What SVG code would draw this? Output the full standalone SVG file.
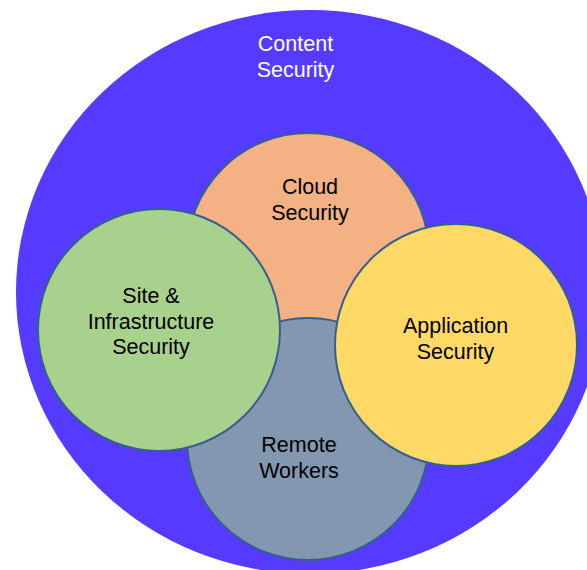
<svg xmlns="http://www.w3.org/2000/svg" width="587" height="570" viewBox="0 0 587 570">
  <style>
    .ring { stroke: #365F91; stroke-width: 2; }
    .lbl { font-family: "Liberation Sans", Arial, sans-serif; font-size: 21.5px; text-anchor: middle; fill: #000000; }
    .white { fill: #FFFFFF; }
  </style>
  <rect x="0" y="0" width="587" height="570" fill="#FFFFFF"/>
  <g id="content-security">
    <ellipse cx="310" cy="292" rx="294" ry="282" fill="#553BFF"/>
    <text class="lbl white" x="295.5" y="51">Content</text>
    <text class="lbl white" x="295.5" y="76.5">Security</text>
  </g>
  <g id="cloud-security">
    <circle class="ring" cx="308" cy="254" r="121" fill="#F4B183"/>
    <text class="lbl" x="310" y="193.5">Cloud</text>
    <text class="lbl" x="310" y="219.5">Security</text>
  </g>
  <g id="remote-workers">
    <circle class="ring" cx="308" cy="439" r="121" fill="#8497B0"/>
    <text class="lbl" x="299" y="452">Remote</text>
    <text class="lbl" x="299" y="477.5">Workers</text>
  </g>
  <g id="site-infrastructure-security">
    <circle class="ring" cx="159" cy="330" r="121" fill="#A9D18E"/>
    <text class="lbl" x="151" y="303">Site &amp;</text>
    <text class="lbl" x="151" y="328.5">Infrastructure</text>
    <text class="lbl" x="151" y="354">Security</text>
  </g>
  <g id="application-security">
    <circle class="ring" cx="456" cy="345" r="121" fill="#FFD966"/>
    <text class="lbl" x="455.5" y="333">Application</text>
    <text class="lbl" x="455.5" y="358.5">Security</text>
  </g>
  <g id="connectors"></g>
</svg>
